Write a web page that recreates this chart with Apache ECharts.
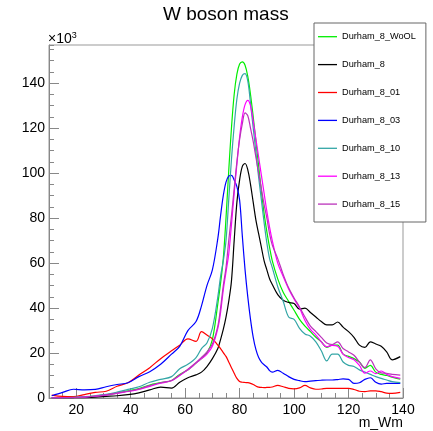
<!DOCTYPE html>
<html>
<head>
<meta charset="utf-8">
<script src="https://cdn.jsdelivr.net/npm/echarts@6/dist/echarts.min.js"></script>
<style>
html,body{margin:0;padding:0;background:#fff;}
#chart{width:433px;height:431px;}
</style>
</head>
<body>
<div id="chart"></div>
<script>
// bin centres (m_Wm)
const xs = [11,15,19,23,27,31,35,39,43,47,51,55,58,61,64,66,68,70,
  72,73,74,75,76,77,78,79,80,81,82,83,84,85,86,87,88,89,90,91,92,
  94,96,98,100,102,104,106,108,110,112,114,116,118,120,122,124,126,128,130,132,134,136,139];

// entries (x10^3)
const durham8WoOL = [0.05,0.1,0.2,0.4,0.9,1.4,2.2,3.2,4.2,5.8,6.8,7.8,10.5,12.5,15.5,17.5,20,26,
  42,51,62,80,101,120,135,144,148.5,149.5,148,143,135,125,114,103,92,82,74,67,61,
  53,47,43,39,35,32,29.5,27,25,22.5,23.5,23.5,19.5,18.5,17.5,16,13.2,14.5,11.5,10.5,10,9.3,8.4];
const durham8 = [0,0.05,0.1,0.2,0.4,0.7,1.0,1.5,2.3,3.6,4.8,4.4,7,9,10.3,11.5,14,17.5,
  22,26,30.5,36,43,52,70,87,97,103,104.3,101.5,95,87,79,73,67,61,57,53,50.5,
  46,43.5,42.5,42,39.5,40,38,36,34,32.5,32.5,33.8,31.5,29.5,27,23.5,22.5,25,24,23,20.5,17,18.4];
const durham8_01 = [1.3,0.7,0.6,1.5,2.5,3.0,5.2,6.8,10.2,13.5,17.5,21,23.5,26.3,25.2,29.5,28,26.3,
  23.5,22,20.2,18.5,16,13.5,11,8.7,7.3,7,6.9,6.8,6.5,6,5.3,4.8,4.7,4.6,4.7,4.7,4.9,
  5.6,5,4.3,4.1,4.5,5.6,4.5,3.9,4,4.3,4.3,4.3,4.3,4.3,3.8,3,2.8,3.2,3.2,2.8,2.2,2.1,2.5];
const durham8_03 = [1.0,2.5,3.9,3.6,3.8,5.0,6.0,6.8,9.5,11.7,15,19.5,23,30,34,41,50,57,
  71,81,90,96,98.7,99,97,94,88,72,57,45,35,27,21.5,18,16,14.8,13.8,12.2,11.5,
  12.3,11,9.5,8.3,7.7,7.3,7.5,7.7,7.9,8,8,8.2,8.5,8.3,6.5,6.8,8.3,9,7,6.2,6.5,6.5,6.5];
const durham8_10 = [0.05,0.1,0.3,0.6,1.0,1.6,2.6,3.8,5.0,7.0,8.3,9.5,13,15,18,22,24.5,31,
  45,54,61,70,88,106,121,133,140,143.5,144.3,141,131,120,109,98,88,78,69,62,58,
  49.5,43,36,35,31,28.5,27.5,25,21,16.5,19.5,19.5,16,14.5,14,12.5,11.5,10.5,9.5,8.7,8,7.3,6.8];
const durham8_13 = [0.05,0.1,0.2,0.4,0.8,1.3,2.0,2.9,3.8,5.2,6.6,7.7,10,12.5,15.5,17.5,19.5,23,
  31,38,48,56,64,77,91,104,116,125,130.5,132.4,130,123,115,107,99,91,83,76,70,
  60,54,48.5,44,40,34.5,30.5,28,25,22.8,23.4,23,19.5,18,17,14.5,11,12,10.8,12,10.5,9.5,8.7];
const durham8_15 = [0.05,0.1,0.2,0.4,0.9,1.4,2.2,3.0,4.0,5.5,6.8,7.8,10.2,12.8,15.8,18,20.5,24,
  32,40,50,58,70,81,93,105,115,122,126.8,125.5,120,114,107,100,93,86,80,73,68,
  62,55,49,44.5,40.5,36,32,29.5,27,24.5,23.8,25,22,20.5,19,16,13.5,17,13,11.2,11,10.5,10.2];

const seriesNames = ['Durham_8_WoOL','Durham_8','Durham_8_01','Durham_8_03','Durham_8_10','Durham_8_13','Durham_8_15'];
const seriesValues = [durham8WoOL, durham8, durham8_01, durham8_03, durham8_10, durham8_13, durham8_15];
const seriesColors = ['#00ee00','#000000','#ff0000','#0000ff','#33a6a6','#ff00ff','#bb33bb'];

const xLabelValues = [20,40,60,80,100,120,140];
const yLabelValues = [0,20,40,60,80,100,120,140];

const FONT = '"Liberation Sans", Arial, Helvetica, sans-serif';
const AXIS_COLOR = '#888';

const chart = echarts.init(document.getElementById('chart'), null, {renderer:'canvas'});

const series = seriesNames.map((name, k) => ({
  type: 'line',
  name: name,
  xAxisIndex: 0,
  yAxisIndex: 0,
  data: xs.map((x, i) => [x, seriesValues[k][i]]),
  smooth: 0.35,
  symbol: 'none',
  lineStyle: {color: seriesColors[k], width: 1.2},
  itemStyle: {color: seriesColors[k]},
  animation: false
}));

chart.setOption({
  animation: false,
  backgroundColor: '#fff',
  textStyle: {fontFamily: FONT},
  title: {
    text: 'W boson mass',
    left: 163, top: 5, padding: 0,
    textStyle: {fontSize: 19, fontWeight: 'normal', color: '#000', fontFamily: FONT}
  },
  grid: {left: 49, right: 30, top: 45, bottom: 33, show: true, borderColor: '#999', borderWidth: 1, backgroundColor: 'transparent'},
  xAxis: [{
    type: 'value', min: 10, max: 140, interval: 10,
    axisLine: {show: true, lineStyle: {color: AXIS_COLOR, width: 1}},
    axisTick: {show: true, inside: true, length: 10, customValues: xLabelValues, lineStyle: {color: AXIS_COLOR}},
    axisLabel: {show: true, customValues: xLabelValues, margin: 5, fontSize: 14, color: '#000', fontFamily: FONT},
    splitLine: {show: false}
  }, {
    type: 'value', min: 10, max: 140, interval: 5, position: 'bottom',
    axisLine: {show: false},
    axisTick: {show: true, inside: true, length: 5, lineStyle: {color: AXIS_COLOR}},
    axisLabel: {show: false},
    splitLine: {show: false}
  }],
  yAxis: [{
    type: 'value', min: 0, max: 157, interval: 20,
    axisLine: {show: true, lineStyle: {color: AXIS_COLOR, width: 1}},
    axisTick: {show: true, inside: true, length: 10, customValues: yLabelValues, lineStyle: {color: AXIS_COLOR}},
    axisLabel: {show: true, customValues: yLabelValues, margin: 4, fontSize: 14, color: '#000', fontFamily: FONT},
    splitLine: {show: false}
  }, {
    type: 'value', min: 0, max: 157, interval: 5, position: 'left',
    axisLine: {show: false},
    axisTick: {show: true, inside: true, length: 5, lineStyle: {color: AXIS_COLOR}},
    axisLabel: {show: false},
    splitLine: {show: false}
  }],
  legend: {
    orient: 'vertical',
    left: 314, top: 23,
    padding: [6.7, 10, 10.9, 4],
    icon: 'rect',
    itemWidth: 19, itemHeight: 1.3, itemGap: 13.9,
    backgroundColor: '#fff',
    borderColor: '#666', borderWidth: 1,
    textStyle: {fontSize: 9.2, lineHeight: 14, color: '#000', fontFamily: FONT},
    data: seriesNames,
    z: 10
  },
  graphic: [
    {type: 'text', left: 48, top: 31, style: {
      text: '{a|×10}{b|3}',
      rich: {a: {fontSize: 14, fontFamily: FONT, fill: '#000'}, b: {fontSize: 9, fontFamily: FONT, fill: '#000', verticalAlign: 'top', padding: [0,0,8,0]}}
    }},
    {type: 'text', right: 30, top: 416, style: {text: 'm_Wm', fontSize: 14, fontFamily: FONT, fill: '#000'}}
  ],
  series: series
});
</script>
</body>
</html>
